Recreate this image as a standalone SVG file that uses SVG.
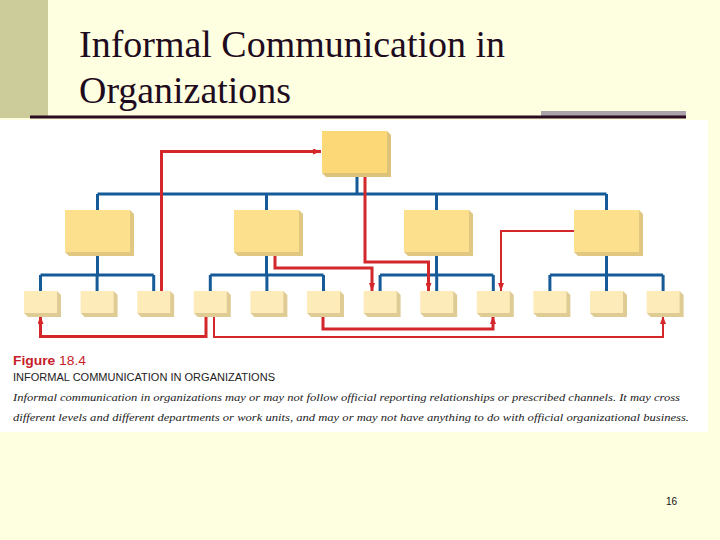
<svg xmlns="http://www.w3.org/2000/svg" xmlns:xlink="http://www.w3.org/1999/xlink" width="720" height="540" viewBox="0 0 720 540">
<style>
.title{font-family:"Liberation Serif","Times New Roman",serif;font-size:37px;fill:#1f0b1e}
.blue{fill:none;stroke:#175a98;stroke-width:3}
.red{fill:none;stroke:#d4272c;stroke-width:3}
.red.thin{stroke-width:2}
.fig{font-family:"Liberation Sans",Arial,sans-serif;font-size:12px;fill:#c8202a}
.cap{font-family:"Liberation Sans",Arial,sans-serif;font-size:10px;fill:#222}
.desc{font-family:"Liberation Serif","Times New Roman",serif;font-style:italic;font-size:11px;fill:#222}
.pg{font-family:"Liberation Sans",Arial,sans-serif;font-size:10px;fill:#111}
</style>
<defs>
<marker id="ah" viewBox="0 0 8 6" refX="8" refY="3" markerWidth="8" markerHeight="6" markerUnits="userSpaceOnUse" orient="auto">
<path d="M0,0 L8,3 L0,6 Z" fill="#d4272c"/>
</marker>
<symbol id="bigTop" overflow="visible">
<polygon points="65,0 69,4 69,46 4,46 0,42" fill="#dcc27a"/>
<rect x="0" y="0" width="65" height="42" fill="#fdd877"/>
</symbol>
<symbol id="big" overflow="visible">
<polygon points="65,0 69,4 69,46 4,46 0,42" fill="#e0c882"/>
<rect x="0" y="0" width="65" height="42" fill="#fce08e"/>
</symbol>
<symbol id="small" overflow="visible">
<polygon points="33,0 37,4 37,26 4,26 0,22" fill="#dfcc94"/>
<rect x="0" y="0" width="33" height="22" fill="#fdebb9"/>
</symbol>
</defs>

<rect x="0" y="0" width="720" height="540" fill="#fefee0"/>
<rect x="0" y="0" width="48" height="118" fill="#cccb9a"/>
<rect x="541" y="111" width="145" height="6" fill="#a9a2aa"/>
<rect x="30" y="115.5" width="656" height="3" fill="#2a0b20"/>
<text class="title" x="79" y="57" textLength="426" lengthAdjust="spacingAndGlyphs">Informal Communication in</text>
<text class="title" x="79" y="103" textLength="212" lengthAdjust="spacingAndGlyphs">Organizations</text>

<rect x="0" y="120" width="708" height="312" fill="#ffffff"/>

<g id="connectors">
<path class="blue" d="M357,174 V194 M97.5,194 H606.5 M97.5,194 V210 M266.5,194 V210 M436.5,194 V210 M606.5,194 V210"/>
<path class="blue" d="M97.5,252 V275 M40.5,275 H153.7 M40.5,275 V291 M97.1,275 V291 M153.7,275 V291"/>
<path class="blue" d="M266.5,252 V275 M210.3,275 H323.5 M210.3,275 V291 M266.9,275 V291 M323.5,275 V291"/>
<path class="blue" d="M436.5,252 V275 M380.1,275 H493.3 M380.1,275 V291 M436.7,275 V291 M493.3,275 V291"/>
<path class="blue" d="M606.5,252 V275 M549.9,275 H663.1 M549.9,275 V291 M606.5,275 V291 M663.1,275 V291"/>
<path class="red" d="M161.5,291 V151.5 H321" marker-end="url(#ah)"/>
<path class="red" d="M365,175 V262 H428.5 V291" marker-end="url(#ah)"/>
<path class="red" d="M275,256 V268 H372 V291" marker-end="url(#ah)"/>
<path class="red thin" d="M574,231 H501 V291" marker-end="url(#ah)"/>
<path class="red" d="M206,316 V336.5 H40.5 V316" marker-end="url(#ah)"/>
<path class="red thin" d="M214,316 V337 H663 V316" marker-end="url(#ah)"/>
<path class="red" d="M323,316 V329 H493 V316" marker-end="url(#ah)"/>
</g>

<g id="top"><use xlink:href="#bigTop" x="322" y="131"/></g>
<g id="mgr1"><use xlink:href="#big" x="65" y="210"/></g>
<g id="mgr2"><use xlink:href="#big" x="234" y="210"/></g>
<g id="mgr3"><use xlink:href="#big" x="404" y="210"/></g>
<g id="mgr4"><use xlink:href="#big" x="574" y="210"/></g>
<g id="w1"><use xlink:href="#small" x="24" y="291"/></g>
<g id="w2"><use xlink:href="#small" x="80.6" y="291"/></g>
<g id="w3"><use xlink:href="#small" x="137.2" y="291"/></g>
<g id="w4"><use xlink:href="#small" x="193.8" y="291"/></g>
<g id="w5"><use xlink:href="#small" x="250.4" y="291"/></g>
<g id="w6"><use xlink:href="#small" x="307" y="291"/></g>
<g id="w7"><use xlink:href="#small" x="363.6" y="291"/></g>
<g id="w8"><use xlink:href="#small" x="420.2" y="291"/></g>
<g id="w9"><use xlink:href="#small" x="476.8" y="291"/></g>
<g id="w10"><use xlink:href="#small" x="533.4" y="291"/></g>
<g id="w11"><use xlink:href="#small" x="590" y="291"/></g>
<g id="w12"><use xlink:href="#small" x="646.6" y="291"/></g>

<text class="fig" x="13" y="365" textLength="73" lengthAdjust="spacingAndGlyphs"><tspan font-weight="bold">Figure</tspan> 18.4</text>
<text class="cap" x="13" y="381" textLength="262" lengthAdjust="spacingAndGlyphs">INFORMAL COMMUNICATION IN ORGANIZATIONS</text>
<text class="desc" x="13" y="401" textLength="667" lengthAdjust="spacingAndGlyphs">Informal communication in organizations may or may not follow official reporting relationships or prescribed channels. It may cross</text>
<text class="desc" x="13" y="421" textLength="676" lengthAdjust="spacingAndGlyphs">different levels and different departments or work units, and may or may not have anything to do with official organizational business.</text>

<text class="pg" x="666" y="505">16</text>
</svg>
